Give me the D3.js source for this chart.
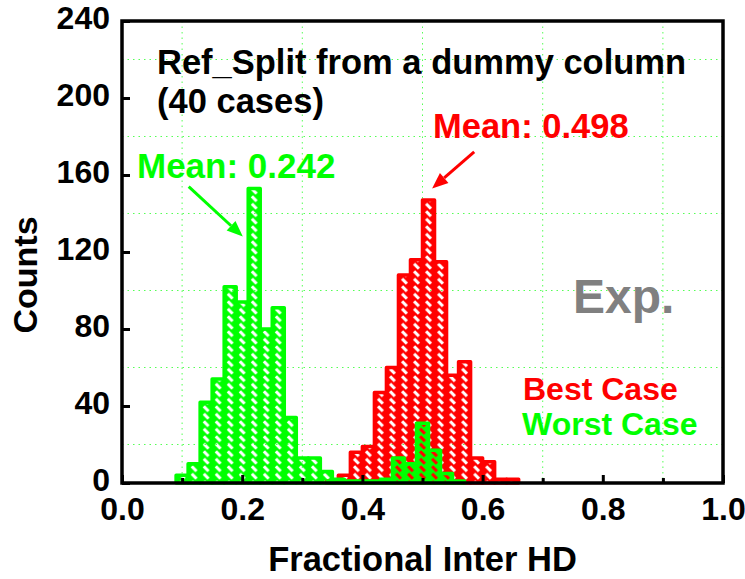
<!DOCTYPE html>
<html>
<head>
<meta charset="utf-8">
<script src="https://cdn.jsdelivr.net/npm/d3@7/dist/d3.min.js"></script>
<style>
  body { margin: 0; background: #fff; }
  svg text { font-family: "Liberation Sans", Arial, sans-serif; font-weight: bold; }
</style>
</head>
<body>
<svg id="chart" width="745" height="579"></svg>
<script>
// Histogram data (bin centers, counts)
const bestBins    = [0.35, 0.37, 0.39, 0.41, 0.43, 0.45, 0.47, 0.49, 0.51, 0.53, 0.55, 0.57, 0.59, 0.61, 0.63, 0.65];
const bestCounts  = [1, 4, 16, 19, 47, 60, 108, 116, 147, 115, 56, 63, 13, 11, 2, 2];
const worstBins   = [0.10, 0.12, 0.14, 0.16, 0.18, 0.20, 0.22, 0.24, 0.26, 0.28, 0.30, 0.32,
                     0.34, 0.36, 0.38, 0.40, 0.42, 0.44, 0.46, 0.48, 0.50, 0.52, 0.54, 0.56];
const worstCounts = [4, 10, 42, 54, 102, 94, 153, 80, 91, 34, 13, 13,
                     6, 2, 1, 1, 1, 2, 13, 10, 31, 17, 5, 1];
const binWidth = 0.02;

// Axes
const xTicks  = [0, 0.2, 0.4, 0.6, 0.8, 1.0];
const xMinor  = [0.1, 0.3, 0.5, 0.7, 0.9];
const yTicks  = [0, 40, 80, 120, 160, 200, 240];
const yGrid   = [20, 60, 100, 140, 180, 220];

const RED = "#ff0000", GREEN = "#00ff00";

const svg = d3.select("#chart");
const plot = { left: 122, right: 723, top: 21, bottom: 483 };

const x = d3.scaleLinear().domain([0, 1]).range([plot.left, plot.right]);
const y = d3.scaleLinear().domain([0, 240]).range([plot.bottom, plot.top]);

// Hatch patterns: solid colour with transparent "\" dashes (evenodd hole)
const defs = svg.append("defs");
function hatch(id, color, firstEdge) {
  const w = x(binWidth) - x(0), h = 7.5;
  const cx = w / 2, cy = h / 2, d = 2.4, t = 1.1;
  const hole = [
    [cx - d + t, cy - d - t], [cx + d + t, cy + d - t],
    [cx + d - t, cy + d + t], [cx - d - t, cy - d + t]
  ];
  defs.append("pattern")
      .attr("id", id)
      .attr("patternUnits", "userSpaceOnUse")
      .attr("x", x(firstEdge))
      .attr("y", 0)
      .attr("width", w)
      .attr("height", h)
    .append("path")
      .attr("fill", color)
      .attr("fill-rule", "evenodd")
      .attr("d", `M0,0H${w}V${h}H0Z M${hole.map(p => p.join(",")).join("L")}Z`);
}
hatch("hatchRed", RED, bestBins[0] - binWidth / 2);
hatch("hatchGreen", GREEN, worstBins[0] - binWidth / 2);

// Grid (dotted, light green)
svg.append("g").selectAll("line")
    .data(xMinor)
    .join("line")
    .attr("x1", d => x(d)).attr("x2", d => x(d))
    .attr("y1", plot.top).attr("y2", plot.bottom)
    .attr("stroke", "#55ff55").attr("stroke-width", 1)
    .attr("stroke-dasharray", "1.5,4");
svg.append("g").selectAll("line")
    .data(yGrid)
    .join("line")
    .attr("x1", plot.left).attr("x2", plot.right)
    .attr("y1", d => y(d)).attr("y2", d => y(d))
    .attr("stroke", "#55ff55").attr("stroke-width", 1)
    .attr("stroke-dasharray", "1.5,4");

// Bars
function drawBars(bins, counts, color, pattern) {
  svg.append("g").selectAll("rect")
      .data(bins.map((b, i) => ({ b, c: counts[i] })))
      .join("rect")
      .attr("x", d => x(d.b - binWidth / 2))
      .attr("width", x(binWidth) - x(0))
      .attr("y", d => y(d.c))
      .attr("height", d => y(0) - y(d.c))
      .attr("fill", `url(#${pattern})`)
      .attr("stroke", color)
      .attr("stroke-width", 3.5)
      .attr("stroke-linejoin", "round");
}
drawBars(bestBins, bestCounts, RED, "hatchRed");
drawBars(worstBins, worstCounts, GREEN, "hatchGreen");

// Frame
svg.append("rect")
    .attr("x", plot.left).attr("y", plot.top)
    .attr("width", plot.right - plot.left).attr("height", plot.bottom - plot.top)
    .attr("fill", "none").attr("stroke", "#000").attr("stroke-width", 3.5);

// Axes with inward ticks
svg.append("g")
    .attr("transform", `translate(0,${plot.bottom})`)
    .call(d3.axisBottom(x).tickValues(xTicks).tickFormat(d3.format(".1f"))
      .tickSize(-8).tickSizeOuter(0).tickPadding(14));
svg.append("g")
    .attr("transform", `translate(0,${plot.bottom})`)
    .call(d3.axisBottom(x).tickValues(xMinor).tickFormat("")
      .tickSize(-5).tickSizeOuter(0));
const yAxis = svg.append("g")
    .attr("transform", `translate(${plot.left},0)`)
    .call(d3.axisLeft(y).tickValues(yTicks)
      .tickSize(-8).tickSizeOuter(0).tickPadding(12));
yAxis.selectAll(".tick text").attr("dy", "0.22em");

svg.selectAll(".domain").remove();
svg.selectAll(".tick line").attr("stroke", "#000").attr("stroke-width", 3);
svg.selectAll(".tick text")
    .attr("font-size", 32)
    .attr("font-family", null)
    .attr("fill", "#000");

// Axis titles
svg.append("text")
    .attr("x", x(0.5)).attr("y", 571)
    .attr("text-anchor", "middle")
    .attr("font-size", 34.5)
    .text("Fractional Inter HD");
svg.append("text")
    .attr("transform", "translate(37,275) rotate(-90)")
    .attr("text-anchor", "middle")
    .attr("font-size", 34)
    .text("Counts");

// Annotations
svg.append("text").attr("x", 157).attr("y", 74).attr("font-size", 34.5)
    .text("Ref_Split from a dummy column");
svg.append("text").attr("x", 157).attr("y", 113).attr("font-size", 34.5)
    .text("(40 cases)");
svg.append("text").attr("x", 433).attr("y", 138).attr("font-size", 34.5).attr("fill", RED)
    .text("Mean: 0.498");
svg.append("text").attr("x", 137).attr("y", 178).attr("font-size", 35).attr("fill", GREEN)
    .text("Mean: 0.242");
svg.append("text").attr("x", 573).attr("y", 313).attr("font-size", 48).attr("fill", "#808080")
    .text("Exp.");
svg.append("text").attr("x", 523).attr("y", 400).attr("font-size", 32).attr("fill", RED)
    .text("Best Case");
svg.append("text").attr("x", 522).attr("y", 435).attr("font-size", 32).attr("fill", GREEN)
    .text("Worst Case");

// Arrows (data coordinates)
function arrow(from, to, color) {
  const x1 = x(from[0]), y1 = y(from[1]), x2 = x(to[0]), y2 = y(to[1]);
  const a = Math.atan2(y2 - y1, x2 - x1), len = 16, half = 6.5;
  const bx = x2 - len * Math.cos(a), by = y2 - len * Math.sin(a);
  svg.append("line")
      .attr("x1", x1).attr("y1", y1).attr("x2", bx).attr("y2", by)
      .attr("stroke", color).attr("stroke-width", 3);
  svg.append("path")
      .attr("fill", color)
      .attr("d", `M${x2},${y2}L${bx + half * Math.sin(a)},${by - half * Math.cos(a)}` +
                 `L${bx - half * Math.sin(a)},${by + half * Math.cos(a)}Z`);
}
arrow([0.111, 154], [0.201, 128], GREEN);
arrow([0.586, 172], [0.516, 153], RED);
</script>
</body>
</html>
